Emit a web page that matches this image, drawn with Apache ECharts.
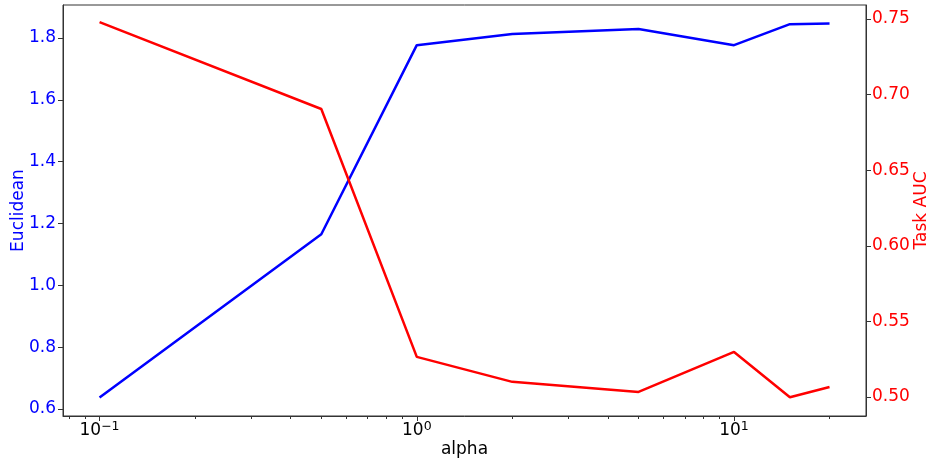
<!DOCTYPE html>
<html>
<head>
<meta charset="utf-8">
<script src="https://cdn.jsdelivr.net/npm/echarts@6/dist/echarts.min.js"></script>
<style>html,body{margin:0;padding:0;background:#fff}#c{width:931px;height:464px}</style>
</head>
<body>
<div id="c"></div>
<script>
const alphas = [0.1, 0.5, 1, 2, 5, 10, 15, 20];
const euclidean = [0.637, 1.165, 1.777, 1.813, 1.829, 1.777, 1.845, 1.847];
const taskAUC = [0.748, 0.6905, 0.5265, 0.510, 0.5033, 0.5298, 0.4998, 0.5066];
const xMajorTicks = [0.1, 1, 10];
const xMinorTicks = [0.08, 0.09, 0.2, 0.3, 0.4, 0.5, 0.6, 0.7, 0.8, 0.9, 2, 3, 4, 5, 6, 7, 8, 9, 20];
const leftTicks = [0.6, 0.8, 1.0, 1.2, 1.4, 1.6, 1.8];
const rightTicks = [0.50, 0.55, 0.60, 0.65, 0.70, 0.75];

const FONT = 'DejaVu Sans';
const FS = 17;
function logLabel(v) {
  const e = Math.round(Math.log10(v));
  return '{b|10}{s|' + String(e).replace('-', '\u2212') + '}';
}
const xMin = 0.0767, xMax = 26.06;
const spine = '#333';

const chart = echarts.init(document.getElementById('c'), null, {renderer: 'canvas'});
chart.setOption({
  animation: false,
  grid: {left: 63, right: 65, top: 5, bottom: 48, show: true, borderColor: spine, borderWidth: 1,
         backgroundColor: 'transparent', containLabel: false, outerBoundsMode: 'none'},
  xAxis: [{
    type: 'log', logBase: 10, min: xMin, max: xMax,
    name: 'alpha', nameLocation: 'middle', nameGap: 25, nameMoveOverlap: false,
    nameTextStyle: {fontFamily: FONT, fontSize: FS, color: '#000'},
    axisLine: {show: true, lineStyle: {color: spine, width: 1}},
    axisTick: {show: true, length: 5, customValues: xMajorTicks, lineStyle: {color: spine}},
    axisLabel: {customValues: xMajorTicks, formatter: logLabel, margin: 4,
      rich: {
        b: {fontFamily: FONT, fontSize: FS, color: '#000', lineHeight: 22},
        s: {fontFamily: FONT, fontSize: 12.5, color: '#000', lineHeight: 12, verticalAlign: 'top'}
      }},
    splitLine: {show: false}, minorTick: {show: false}, minorSplitLine: {show: false}
  }, {
    type: 'log', logBase: 10, min: xMin, max: xMax, position: 'bottom',
    axisLine: {show: false},
    axisTick: {show: true, length: 3, customValues: xMinorTicks, lineStyle: {color: spine}},
    axisLabel: {show: false}, splitLine: {show: false}
  }],
  yAxis: [{
    type: 'value', min: 0.577, max: 1.907, position: 'left',
    name: 'Euclidean', nameLocation: 'middle', nameGap: 36, nameRotate: 90, nameMoveOverlap: false,
    nameTextStyle: {fontFamily: FONT, fontSize: FS, color: '#0000ff'},
    axisLine: {show: true, lineStyle: {color: spine, width: 1}},
    axisTick: {show: true, length: 5, customValues: leftTicks, lineStyle: {color: spine}},
    axisLabel: {customValues: leftTicks, formatter: v => v.toFixed(1), fontFamily: FONT, fontSize: FS, color: '#0000ff', margin: 7},
    splitLine: {show: false}
  }, {
    type: 'value', min: 0.4874, max: 0.7593, position: 'right',
    name: 'Task AUC', nameLocation: 'middle', nameGap: 47, nameRotate: 90, nameMoveOverlap: false,
    nameTextStyle: {fontFamily: FONT, fontSize: FS, color: '#ff0000'},
    axisLine: {show: true, lineStyle: {color: spine, width: 1}},
    axisTick: {show: true, length: 5, customValues: rightTicks, lineStyle: {color: spine}},
    axisLabel: {customValues: rightTicks, formatter: v => v.toFixed(2), fontFamily: FONT, fontSize: FS, color: '#ff0000', margin: 6},
    splitLine: {show: false}
  }],
  series: [{
    name: 'Euclidean', type: 'line', xAxisIndex: 0, yAxisIndex: 0,
    data: alphas.map((a, i) => [a, euclidean[i]]),
    showSymbol: false, symbol: 'none', lineStyle: {color: '#0000ff', width: 2.5}, z: 2
  }, {
    name: 'Task AUC', type: 'line', xAxisIndex: 0, yAxisIndex: 1,
    data: alphas.map((a, i) => [a, taskAUC[i]]),
    showSymbol: false, symbol: 'none', lineStyle: {color: '#ff0000', width: 2.5}, z: 3
  }]
});
</script>
</body>
</html>
